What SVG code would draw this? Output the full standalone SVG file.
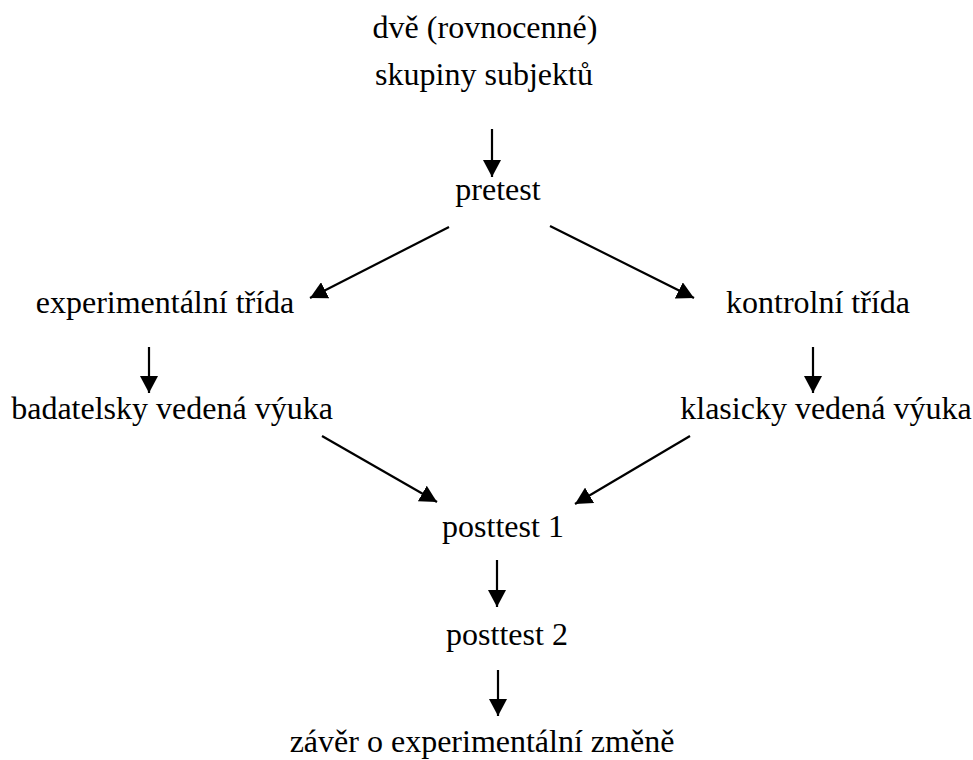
<svg xmlns="http://www.w3.org/2000/svg" width="973" height="760" viewBox="0 0 973 760">
<style>
text{font-family:"Liberation Serif","Times New Roman",serif;font-size:32px;fill:#000;text-anchor:middle}
.c line{stroke:#000;stroke-width:2.2;marker-end:url(#ah)}
</style>
<defs>
<marker id="ah" markerUnits="userSpaceOnUse" markerWidth="18" markerHeight="18" viewBox="0 0 18 18" refX="17" refY="9" orient="auto">
<path d="M0,0 L17,9 L0,18 Z" fill="#000"/>
</marker>
</defs>
<rect width="973" height="760" fill="#fff"/>
<g id="n1"><text x="485" y="38">dvě (rovnocenné)</text><text x="484" y="85">skupiny subjektů</text></g>
<g id="n2"><text x="498" y="200">pretest</text></g>
<g id="n3"><text x="165" y="313">experimentální třída</text></g>
<g id="n4"><text x="818" y="313">kontrolní třída</text></g>
<g id="n5"><text x="172" y="419">badatelsky vedená výuka</text></g>
<g id="n6"><text x="826" y="419">klasicky vedená výuka</text></g>
<g id="n7"><text x="503" y="537">posttest 1</text></g>
<g id="n8"><text x="507" y="645">posttest 2</text></g>
<g id="n9"><text x="482" y="752">závěr o experimentální změně</text></g>
<g class="c" id="connectors">
<line x1="492" y1="129" x2="492" y2="177"/>
<line x1="449" y1="227" x2="310" y2="298"/>
<line x1="550" y1="226" x2="694" y2="298"/>
<line x1="149" y1="347" x2="149" y2="393"/>
<line x1="813" y1="347" x2="813" y2="393"/>
<line x1="322" y1="436" x2="437" y2="502"/>
<line x1="690" y1="436" x2="575" y2="504"/>
<line x1="497" y1="560" x2="497" y2="607"/>
<line x1="498" y1="670" x2="498" y2="716"/>
</g>
</svg>
